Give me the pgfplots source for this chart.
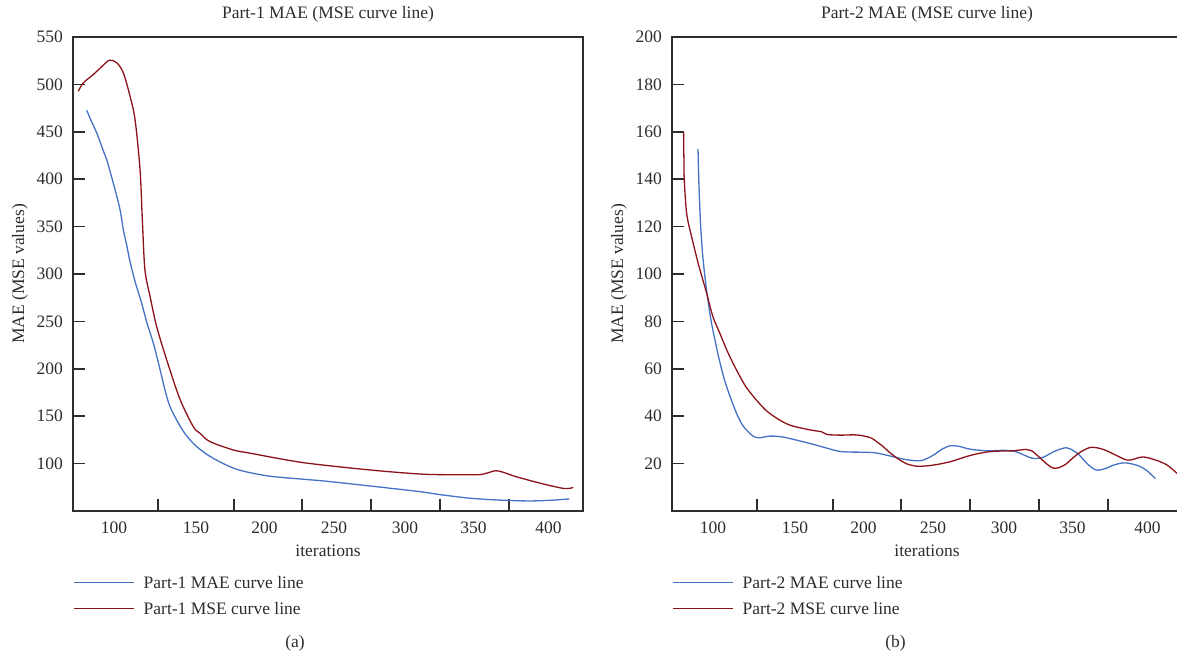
\documentclass[border=0pt]{standalone}
\usepackage{pgfplots}
\pgfplotsset{compat=1.18}
\usepackage{fontspec}
\setmainfont{Liberation Serif}

\definecolor{maeblue}{RGB}{68,114,196}
\definecolor{msered}{RGB}{139,18,24}
\definecolor{axisgray}{RGB}{45,45,45}

\pgfplotsset{
  panel/.style={
    scale only axis, width=255pt, height=237pt,
    xmin=67.4, xmax=424.1,
    axis line style={axisgray, line width=0.75pt},
    tick style={axisgray, line width=0.75pt},
    tick align=inside, major tick length=6pt,
    xtick pos=bottom, ytick pos=left,
    % tick marks sit between the labels in the original
    xtick={126.8,180,227.5,275.8,324.1,372.3},
    xticklabels={,,,,,},
    extra x ticks={96.1,153.4,201.3,249.9,299.6,347.5,399.9},
    extra x tick labels={100,150,200,250,300,350,400},
    extra x tick style={major tick length=0pt},
    xticklabel style={yshift=-2.5pt, text=axisgray},
    yticklabel style={xshift=-2pt, text=axisgray},
    /pgf/number format/assume math mode=true,
    title style={at={(axis description cs:0.5,1.0232)}, anchor=center, yshift=0pt, text=axisgray},
    xlabel style={at={(axis description cs:0.5,-0.0844)}, anchor=center, text=axisgray},
    ylabel style={at={(axis description cs:-0.104,0.5)}, anchor=center, text=axisgray},
    xlabel={iterations},
    ylabel={MAE (MSE values)},
    legend image code/.code={\draw[#1] (0pt,0pt) -- (30pt,0pt);},
    legend cell align=left,
    legend style={draw=none, fill=none, inner sep=0pt,
      at={(axis description cs:0,-0.1325)}, anchor=north west,
      row sep=4.8pt, column sep=4.5pt,
      nodes={inner sep=0pt, text height=7pt, text depth=1.2pt, text=axisgray}},
  },
  mae/.style={maeblue, line width=0.65pt, smooth, tension=0.5},
  mse/.style={msered, line width=0.65pt, smooth, tension=0.5},
}

\pgfplotstableread{
x y
77 472.7
80 462
84 448.8
88.6 430
91 420.7
96.8 389
100.3 367.8
102.6 346.7
105 330
107.3 313
111 291
115.4 269.3
119 249
123.6 227
128 201
131.7 177.8
135 161
139.9 146
146 131
153.9 117.9
165 106
181.9 94
203.7 87
228.5 83.5
243.8 81.5
275.1 76.4
310 70.4
324 67.3
345 63.5
364.3 61.6
385.6 60.6
400 61.2
414.6 62.7
}\maeA

\pgfplotstableread{
x y
71.1 492.8
74.6 501.6
81.6 510.4
87 518
92.8 525.5
98 522.8
102.6 512.2
107.3 487.5
110.8 462.9
114.3 410
115.9 357
117.7 304.5
121.3 276.3
125.9 244.6
132.9 209.5
142.2 168
151.5 139
156.2 132
163.2 123.2
179.5 114.4
191.2 111
228.5 101
275.1 93.3
310 89
330 88.3
350.9 88.3
357 90
362.9 92.5
368 91
377.7 86
396.4 78.5
411.1 73.7
417.3 74.8
}\mseA

\pgfplotstableread{
x y
85.6 152.7
86.3 136.5
87.5 119.7
89.2 105.7
91.9 91.7
94.7 80.4
97.5 72
100 65
103.3 57
107 50
112.6 41.1
117 36
121.9 32.7
125 31.3
128.9 30.9
135.9 31.6
145 31.2
159.2 29.2
170 27.5
182.5 25.4
190 24.9
201.1 24.8
210 24.5
220 23.2
230 21.8
238.5 21.2
243.2 21.5
250 23.5
256 26
261.8 27.5
268 27.3
275.8 26.1
287.7 25.4
300 25.6
308 25
314 23.5
319.7 22.2
326.7 22.6
335 25.2
343 26.7
348 25.5
352.3 23.6
358 19.8
364 17.3
370 17.8
376 19.3
382.6 20.3
388 20
394.3 18.9
400 16.8
405.5 13.6
}\maeB

\pgfplotstableread{
x y
75.5 159.6
75.7 150
76 139.4
77.7 125.3
81.2 115.5
85.8 104.3
91.7 91.7
96 82
101 74.8
106 67.5
112.6 59.4
119 52.5
126.6 46.7
134 42
142.9 38.3
150 36.2
159.2 34.8
166 34
172.1 33.4
175.6 32.3
185 32
196.6 32.1
205.9 31
210 29.5
215.2 27.1
220 24.5
226.8 21.5
232 19.8
238.5 18.9
245 19
252.5 19.6
262 20.8
275.8 23.4
287.7 24.9
297 25.3
306 25.4
315.2 26
319 25.4
324.3 22.7
330 19.6
334.1 18.1
338 18.3
342.7 19.7
348 22.5
353.1 24.9
359.8 26.8
366 26.5
371.5 25.4
378 23.5
385.4 21.5
390 21.8
395.1 22.7
399.4 22.6
408 21
413.4 19.5
417 17.8
420.6 15.9
}\mseB

\begin{document}
\fontsize{8.75}{10.5}\selectfont
\begin{tikzpicture}
\begin{axis}[panel, at={(36.5pt,-255.5pt)}, anchor=south west,
  ymin=50, ymax=550, ytick={100,150,...,550},
  title={Part-1 MAE (MSE curve line)}]
\addplot[mae] table {\maeA};
\addlegendentry{Part-1 MAE curve line}
\addplot[mse] table {\mseA};
\addlegendentry{Part-1 MSE curve line}
\end{axis}

\begin{axis}[panel, at={(336pt,-255.5pt)}, anchor=south west,
  ymin=0, ymax=200, ytick={20,40,...,200},
  title={Part-2 MAE (MSE curve line)}]
\addplot[mae] table {\maeB};
\addlegendentry{Part-2 MAE curve line}
\addplot[mse] table {\mseB};
\addlegendentry{Part-2 MSE curve line}
\end{axis}

\node[text=axisgray] at (147.5pt,-321.5pt) {(a)};
\node[text=axisgray] at (447.8pt,-321.5pt) {(b)};

\pgfresetboundingbox
\path[use as bounding box] (0pt,0pt) rectangle (588.5pt,-328pt);
\end{tikzpicture}
\end{document}
